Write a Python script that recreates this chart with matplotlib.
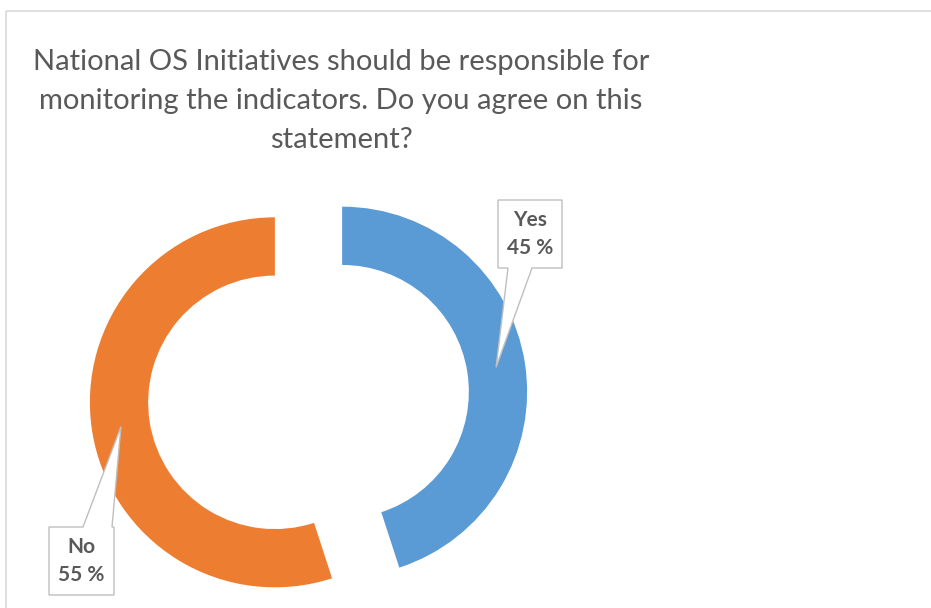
import matplotlib
matplotlib.use("Agg")
import matplotlib.pyplot as plt
import matplotlib.patches as mpatches
import matplotlib.transforms as mtransforms
import numpy as np

plt.rcParams['font.family'] = ['Lato', 'DejaVu Sans']

# Data
categories = ["Yes", "No"]
shares = [45, 55]
colors = ["#5B9BD5", "#ED7D31"]
title = ("National OS Initiatives should be responsible for\n"
         "monitoring the indicators. Do you agree on this\n"
         "statement?")

W, H = 931, 608
fig = plt.figure(figsize=(W / 100, H / 100), dpi=100)
fig.patch.set_facecolor("white")

# Pixel coordinate helper (origin top-left)
px = mtransforms.Affine2D().scale(1 / W, -1 / H).translate(0, 1) + fig.transFigure

# Chart frame
fig.patches.append(mpatches.Rectangle((6, 11), 940, 620, transform=px, fill=False,
                                      edgecolor="#D9D9D9", linewidth=1.2))

# Donut axes scaled so that outer radius = 185 px, centre at (308.5, 397)
R_px = 185.0
cx, cy = 308.5, 397.0
ax = fig.add_axes([0, 0, 1, 1])

explode_d = 0.184
ring_w = 0.315
wedges, _ = ax.pie(shares, colors=colors, startangle=90, counterclock=False,
                   explode=[explode_d] * len(shares), radius=1.0,
                   wedgeprops=dict(width=ring_w, linewidth=0))
ax.set_xlim(-cx / R_px, (W - cx) / R_px)
ax.set_ylim(-(H - cy) / R_px, cy / R_px)
ax.set_aspect("equal")
ax.axis("off")

fig.text(341 / W, 1 - 101 / H, title, ha="center", va="center", fontsize=21,
         color="#595959", linespacing=1.62)

# Callout boxes: (left, top, right, bottom) in px, pointer base x-range, side
boxes = {
    "Yes": dict(box=(498, 200, 562, 268), base=(508, 532), side="bottom"),
    "No": dict(box=(49, 527, 114, 595), base=(83, 112), side="top"),
}

fig.canvas.draw()
for w, cat, val in zip(wedges, categories, shares):
    mid = np.deg2rad((w.theta1 + w.theta2) / 2)
    r_mid = 1.0 - ring_w / 2
    ox = explode_d * np.cos(mid)
    oy = explode_d * np.sin(mid)
    ax_pt = (r_mid * np.cos(mid) + ox, r_mid * np.sin(mid) + oy)
    tip = tuple(ax.transData.transform(ax_pt))
    info = boxes[cat]
    l, t, r, b = info["box"]
    b0, b1 = info["base"]

    def d(x, y):
        return (x, H - y)

    if info["side"] == "bottom":
        verts = [d(l, t), d(r, t), d(r, b), d(b1, b), tip, d(b0, b), d(l, b)]
    else:
        verts = [d(l, t), d(b0, t), tip, d(b1, t), d(r, t), d(r, b), d(l, b)]
    poly = mpatches.Polygon(verts, closed=True, facecolor="white",
                            edgecolor="#BFBFBF", linewidth=1.0,
                            transform=mtransforms.IdentityTransform(), zorder=5)
    fig.patches.append(poly)
    fig.text((l + r) / 2 / W, 1 - ((t + b) / 2) / H, f"{cat}\n{val} %",
             ha="center", va="center", fontsize=15, fontweight="bold",
             color="#595959", linespacing=1.45, zorder=6)

fig.savefig("out.png", dpi=100, facecolor="white")
